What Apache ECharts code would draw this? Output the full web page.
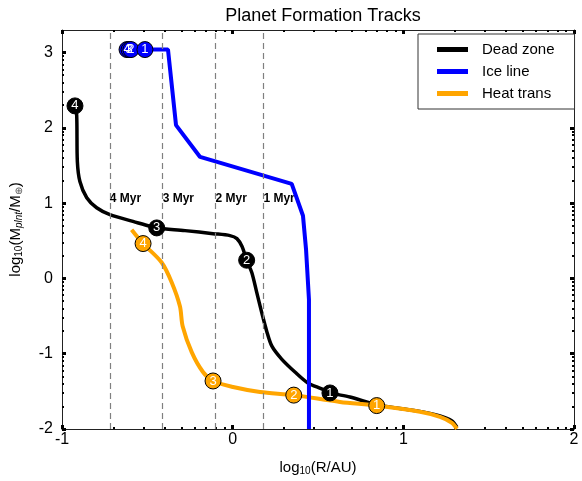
<!DOCTYPE html>
<html>
<head>
<meta charset="utf-8">
<script src="https://cdn.jsdelivr.net/npm/echarts@6/dist/echarts.min.js"></script>
<style>
  html, body { margin: 0; padding: 0; background: #fff; }
  #chart { width: 582px; height: 481px; }
</style>
</head>
<body>
<div id="chart"></div>
<script>
// curves, [log10 R, log10 M]
const deadZone = [
  [-0.924, 2.292], [-0.914, 2.169], [-0.910, 1.552], [-0.895, 1.287], [-0.855, 1.071],
  [-0.797, 0.939], [-0.719, 0.847], [-0.584, 0.758], [-0.484, 0.692], [-0.445, 0.671],
  [-0.279, 0.635], [-0.115, 0.595], [-0.016, 0.569], [0.025, 0.529], [0.055, 0.423],
  [0.082, 0.242], [0.112, 0.079], [0.141, -0.185], [0.170, -0.450], [0.199, -0.697],
  [0.229, -0.896], [0.287, -1.071], [0.365, -1.243], [0.441, -1.389], [0.522, -1.468],
  [0.570, -1.521], [0.687, -1.574], [0.846, -1.680], [1.080, -1.759], [1.215, -1.825],
  [1.285, -1.892], [1.314, -1.975]
];
const iceLine = [
  [-0.514, 3.04], [-0.379, 3.04], [-0.332, 2.037], [-0.191, 1.614], [0.346, 1.257],
  [0.412, 0.833], [0.430, 0.384], [0.447, -0.278], [0.447, -2.0]
];
const heatTrans = [
  [-0.592, 0.648], [-0.525, 0.463], [-0.416, 0.212], [-0.357, -0.053], [-0.309, -0.370],
  [-0.293, -0.635], [-0.240, -0.979], [-0.174, -1.243], [-0.115, -1.362], [0.002, -1.442],
  [0.160, -1.508], [0.358, -1.550], [0.629, -1.640], [0.844, -1.689], [1.098, -1.772],
  [1.215, -1.839], [1.285, -1.918], [1.314, -1.997]
];

// numbered circles
const deadMarks = [[-0.924, 2.292, '4'], [-0.445, 0.671, '3'], [0.082, 0.242, '2'], [0.570, -1.521, '1']];
const iceMarks = [[-0.619, 3.04, '4'], [-0.607, 3.04, '3'], [-0.596, 3.04, '2'], [-0.514, 3.04, '1']];
const heatMarks = [[-0.525, 0.463, '4'], [-0.115, -1.362, '3'], [0.358, -1.550, '2'], [0.844, -1.689, '1']];

// age lines
const myrX = [-0.72, -0.41, -0.10, 0.18];
const myrLabels = ['4 Myr', '3 Myr', '2 Myr', '1 Myr'];
const myrLabelY = 1.06;

// axis ticks
const xMajor = [-1, 0, 1, 2];
const yMajor = [-2, -1, 0, 1, 2, 3];
const logOffsets = [0.301, 0.477, 0.602, 0.699, 0.778, 0.845, 0.903, 0.954];

const X_MIN = -1, X_MAX = 2, Y_MIN = -2, Y_MAX = 3.3;
const FONT = "'Liberation Sans', Arial, sans-serif";

const xMinor = [];
xMajor.slice(0, -1).forEach(k => logOffsets.forEach(o => xMinor.push(k + o)));
const yMinor = [];
yMajor.forEach(k => logOffsets.forEach(o => { if (k + o < Y_MAX) yMinor.push(k + o); }));

const chart = echarts.init(document.getElementById('chart'), null, { renderer: 'canvas' });

function tickAxis(pos, ticks, major, extra) {
  return Object.assign({
    type: 'value',
    position: pos,
    min: pos === 'bottom' || pos === 'top' ? X_MIN : Y_MIN,
    max: pos === 'bottom' || pos === 'top' ? X_MAX : Y_MAX,
    axisLine: { show: major, onZero: false, lineStyle: { color: '#222', width: 1 } },
    axisTick: {
      show: true, inside: true, customValues: ticks,
      length: major ? 4 : 2,
      lineStyle: { color: '#000', width: major ? 3 : 2 }
    },
    axisLabel: { show: false },
    splitLine: { show: false }
  }, extra || {});
}

const subRich = {
  n: { fontSize: 15, fontFamily: FONT, color: '#000' },
  s: { fontSize: 10, fontFamily: FONT, color: '#000', padding: [7, 0, 0, 0] },
  i: { fontSize: 10, fontFamily: FONT, fontStyle: 'italic', color: '#000', padding: [7, 0, 0, 0] },
  o: { fontSize: 10, fontFamily: FONT, color: '#555', padding: [7, 0, 0, 0] }
};

function markSeries(name, data, fill, border) {
  return {
    name: name,
    type: 'scatter',
    data: data,
    symbol: 'circle',
    symbolSize: 16,
    z: 5,
    itemStyle: { color: fill, borderColor: border, borderWidth: 1, opacity: 1 },
    label: {
      show: true, position: 'inside', formatter: p => p.value[2],
      color: '#fff', fontSize: 13, fontFamily: FONT
    },
    emphasis: { disabled: true }
  };
}

function lineSeries(name, data, color, width, smooth, z) {
  return {
    name: name,
    type: 'line',
    data: data,
    showSymbol: false,
    smooth: smooth,
    z: z,
    lineStyle: { color: color, width: width },
    itemStyle: { color: color }
  };
}

const option = {
  backgroundColor: '#fff',
  animation: false,
  title: {
    text: 'Planet Formation Tracks',
    left: 318, top: 2, textAlign: 'center',
    textStyle: { fontSize: 18, fontWeight: 'normal', fontFamily: FONT, color: '#000' }
  },
  legend: {
    data: ['Dead zone', 'Ice line', 'Heat trans'],
    orient: 'vertical',
    left: 418, top: 34,
    padding: [8, 20, 8, 19],
    itemWidth: 31, itemHeight: 5, itemGap: 7,
    icon: 'rect',
    borderColor: '#333', borderWidth: 1, borderRadius: 0,
    backgroundColor: '#fff',
    textStyle: { fontSize: 15, fontFamily: FONT, color: '#000', padding: [0, 0, 0, 9] }
  },
  grid: { left: 62, right: 8, top: 30, bottom: 51, containLabel: false },
  xAxis: [
    tickAxis('bottom', xMajor, true, {
      interval: 1,
      name: '{n|log}{s|10}{n|(R/AU)}',
      nameLocation: 'middle', nameGap: 30,
      nameTextStyle: { rich: subRich },
      axisLabel: { show: true, fontSize: 16, fontFamily: FONT, color: '#000', margin: 3, customValues: xMajor }
    }),
    tickAxis('bottom', xMinor, false),
    tickAxis('top', xMajor, true),
    tickAxis('top', xMinor, false)
  ],
  yAxis: [
    tickAxis('left', yMajor, true, {
      interval: 1,
      name: '{n|log}{s|10}{n|(M}{i|plnt}{n|/M}{o|⊕}{n|)}',
      nameLocation: 'middle', nameGap: 38,
      nameTextStyle: { rich: subRich },
      axisLabel: { show: true, fontSize: 16, fontFamily: FONT, color: '#000', margin: 9, customValues: yMajor }
    }),
    tickAxis('left', yMinor, false),
    tickAxis('right', yMajor, true),
    tickAxis('right', yMinor, false)
  ],
  series: [
    {
      name: 'myr',
      type: 'scatter',
      data: myrX.map((x, i) => [x, myrLabelY, myrLabels[i]]),
      symbolSize: 0,
      z: 1,
      itemStyle: { opacity: 1 },
      label: {
        show: true, position: 'right', distance: 0, formatter: p => p.value[2],
        fontSize: 12, fontWeight: 'bold', fontFamily: FONT, color: '#000', opacity: 1
      },
      markLine: {
        silent: true,
        symbol: 'none',
        label: { show: false },
        lineStyle: { color: '#808080', width: 1.2, type: [6, 4] },
        data: myrX.map(x => ({ xAxis: x }))
      },
      emphasis: { disabled: true }
    },
    lineSeries('Dead zone', deadZone, '#000', 3.5, 0.3, 2),
    lineSeries('Heat trans', heatTrans, '#ffa500', 4, 0.3, 3),
    lineSeries('Ice line', iceLine, '#0000ff', 4, false, 4),
    markSeries('Dead zone pts', deadMarks, '#000', '#000'),
    markSeries('Heat trans pts', heatMarks, '#ffa500', '#000'),
    markSeries('Ice line pts', iceMarks, '#0000ff', '#000')
  ]
};

chart.setOption(option);
</script>
</body>
</html>
